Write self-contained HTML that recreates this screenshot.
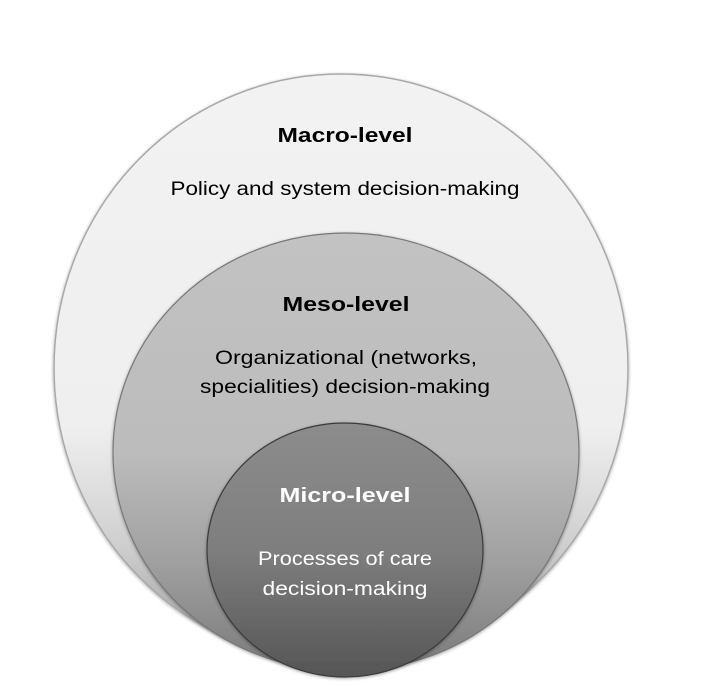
<!DOCTYPE html>
<html><head><meta charset="utf-8"><style>html,body{margin:0;padding:0;background:#fff;}svg{display:block}</style></head>
<body>
<svg width="703" height="699" viewBox="0 0 703 699" xmlns="http://www.w3.org/2000/svg">
<defs>
<linearGradient id="g1" x1="0" y1="0" x2="0" y2="1">
<stop offset="0" stop-color="#f2f2f2"/><stop offset="0.6" stop-color="#efefef"/><stop offset="0.8" stop-color="#cfcfcf"/><stop offset="1" stop-color="#9a9a9a"/></linearGradient>
<linearGradient id="g2" x1="0" y1="0" x2="0" y2="1">
<stop offset="0" stop-color="#c2c2c2"/><stop offset="0.5" stop-color="#bcbcbc"/><stop offset="0.75" stop-color="#a0a0a0"/><stop offset="1" stop-color="#7a7a7a"/></linearGradient>
<linearGradient id="g3" x1="0" y1="0" x2="0" y2="1">
<stop offset="0" stop-color="#8c8c8c"/><stop offset="0.5" stop-color="#7e7e7e"/><stop offset="1" stop-color="#555"/></linearGradient>
<filter id="sh" x="-10%" y="-10%" width="120%" height="120%"><feDropShadow dx="0" dy="1" stdDeviation="1.5" flood-color="#000" flood-opacity="0.35"/></filter>
</defs>
<ellipse cx="341" cy="368" rx="287" ry="294" fill="url(#g1)" stroke="#a8a8a8" stroke-width="1.5" filter="url(#sh)"/>
<ellipse cx="346" cy="452" rx="233" ry="219" fill="url(#g2)" stroke="#777" stroke-width="1.2" filter="url(#sh)"/>
<ellipse cx="345" cy="550" rx="138" ry="127" fill="url(#g3)" stroke="#3a3a3a" stroke-width="1.2" filter="url(#sh)"/>
<g font-family="Liberation Sans, sans-serif" text-anchor="middle">
<text x="345" y="142" font-size="20" font-weight="bold" fill="#000" textLength="135" lengthAdjust="spacingAndGlyphs">Macro-level</text>
<text x="345" y="195" font-size="19" fill="#000" textLength="349" lengthAdjust="spacingAndGlyphs">Policy and system decision-making</text>
<text x="346" y="311" font-size="20" font-weight="bold" fill="#000" textLength="127" lengthAdjust="spacingAndGlyphs">Meso-level</text>
<text x="346" y="364" font-size="19" fill="#000" textLength="262" lengthAdjust="spacingAndGlyphs">Organizational (networks,</text>
<text x="345" y="393" font-size="19" fill="#000" textLength="290" lengthAdjust="spacingAndGlyphs">specialities) decision-making</text>
<text x="345" y="502" font-size="20" font-weight="bold" fill="#fff" textLength="131" lengthAdjust="spacingAndGlyphs">Micro-level</text>
<text x="345" y="565" font-size="19" fill="#fff" textLength="174" lengthAdjust="spacingAndGlyphs">Processes of care</text>
<text x="345" y="595" font-size="19" fill="#fff" textLength="165" lengthAdjust="spacingAndGlyphs">decision-making</text>
</g>
</svg>
</body></html>
